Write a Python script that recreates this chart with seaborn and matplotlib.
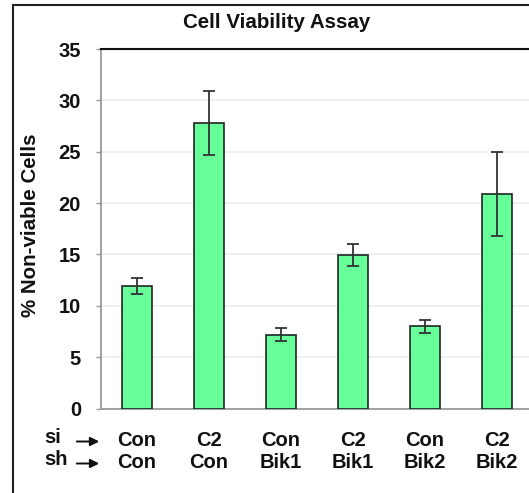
import matplotlib
matplotlib.use("Agg")
import matplotlib.pyplot as plt
import seaborn as sns
import pandas as pd
import numpy as np
from matplotlib.patches import Rectangle

si_labels = ["Con", "C2", "Con", "C2", "Con", "C2"]
sh_labels = ["Con", "Con", "Bik1", "Bik1", "Bik2", "Bik2"]
values = [11.95, 27.8, 7.2, 14.95, 8.0, 20.9]
errors = [0.78, 3.1, 0.63, 1.1, 0.63, 4.1]
title = "Cell Viability Assay"
ylabel = "% Non-viable Cells"
yticks = [0, 5, 10, 15, 20, 25, 30, 35]

categories = [f"{a}\n{b}" for a, b in zip(si_labels, sh_labels)]
df = pd.DataFrame({"group": categories, "value": values})

sns.set_theme(style="white")
plt.rcParams["font.family"] = ["Liberation Sans", "DejaVu Sans"]

FS = 14.5
W, H = 529, 493
fig = plt.figure(figsize=(W / 100, H / 100), dpi=100)
fig.patch.set_facecolor("white")

x0, x1 = 100.7, 532.7
y0, y1 = 408.5, 49
ax = fig.add_axes([x0 / W, 1 - y0 / H, (x1 - x0) / W, (y0 - y1) / H])

sns.barplot(data=df, x="group", y="value", ax=ax, color="#66FF99",
            saturation=1, width=0.415, edgecolor="#222222", linewidth=1.2,
            errorbar=None, zorder=3)
ax.errorbar(np.arange(len(values)), values, yerr=errors, fmt="none",
            ecolor="#333333", elinewidth=1.3, capsize=4.2, capthick=1.3, zorder=4)

ax.set_xlim(-0.5, 5.5)
ax.set_ylim(0, 35)
ax.set_yticks(yticks)
ax.set_yticklabels([str(t) for t in yticks], fontsize=FS, fontweight="bold", color="#111111")
ax.set_xticks(np.arange(len(categories)))
ax.set_xticklabels(categories, fontsize=FS, fontweight="bold", color="#111111",
                   linespacing=1.15)
ax.set_xticks(np.arange(-0.5, 6.0, 1.0), minor=True)
ax.tick_params(axis="x", which="major", length=0, pad=16.5)
ax.tick_params(axis="x", which="minor", length=3.6, width=1, color="#999999", direction="out")
ax.tick_params(axis="y", which="major", length=3.6, width=1, color="#999999", direction="out", pad=10.5, left=True)
ax.set_xlabel("")
ax.set_ylabel("")

for g in yticks[1:-1]:
    ax.axhline(g, color="#EEEEEE", linewidth=1.3, zorder=1)

for s in ["left", "bottom"]:
    ax.spines[s].set_color("#999999")
    ax.spines[s].set_linewidth(1.3)
ax.spines["top"].set_color("#111111")
ax.spines["top"].set_linewidth(1.5)
ax.spines["right"].set_visible(False)

fig.text(277 / W, 1 - 22 / H, title, ha="center", va="center",
         fontsize=FS + 0.3, fontweight="bold", color="#111111")
fig.text(31 / W, 1 - 225 / H, ylabel, ha="center", va="center", rotation=90,
         fontsize=FS + 0.3, fontweight="bold", color="#111111")

for lab, yy in [("si", 437.5), ("sh", 459.5)]:
    fig.text(44 / W, 1 - yy / H, lab, ha="left", va="center",
             fontsize=FS, fontweight="bold", color="#111111")
    fig.add_artist(matplotlib.patches.FancyArrowPatch(
        (74 / W, 1 - (yy + 4) / H), (102 / W, 1 - (yy + 4) / H),
        transform=fig.transFigure, arrowstyle="-|>", mutation_scale=13,
        color="#111111", linewidth=1.4))

fig.add_artist(Rectangle((13 / W, -0.1), 1.2, (1 - 5 / H) + 0.1,
                         transform=fig.transFigure, fill=False,
                         edgecolor="#222222", linewidth=1.5))

fig.savefig("out.png", dpi=100)
